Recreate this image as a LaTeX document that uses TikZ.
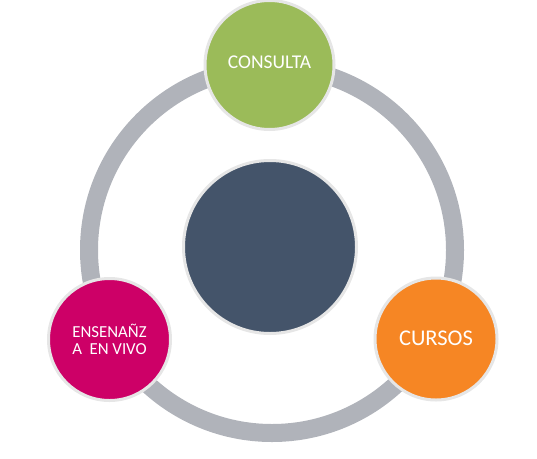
\documentclass[tikz,border=0pt]{standalone}
\usepackage{fontspec}
\setmainfont{Carlito}
\definecolor{ringgray}{HTML}{B0B3BA}
\definecolor{bordergray}{HTML}{E6E6E6}
\definecolor{cgreen}{HTML}{9BBB59}
\definecolor{cmagenta}{HTML}{CD0067}
\definecolor{corange}{HTML}{F68624}
\definecolor{cdark}{HTML}{44546A}
\begin{document}
\begin{tikzpicture}[x=1pt,y=-1pt,
  bubble/.style={circle, draw=bordergray, line width=3pt, inner sep=0pt},
  lbl/.style={text=white, inner sep=0pt, align=center}]
\useasboundingbox (0,0) rectangle (537,458);
\coordinate (rc) at (272,250);
\draw[ringgray, line width=18pt] (rc) circle (183);
\node[bubble, fill=cdark, minimum size=173pt] (hub) at (270,247) {};
\node[bubble, fill=cgreen, minimum size=129pt] (consulta) at (269.5,65) {};
\node[bubble, fill=cmagenta, minimum size=122pt] (ensenanza) at (109.5,339.5) {};
\node[bubble, fill=corange, minimum size=122pt] (cursos) at (436,339) {};
\node[lbl, font=\fontsize{19.5}{21}\selectfont] at ([yshift=3pt]consulta.center) {CONSULTA};
\node[lbl, font=\fontsize{16.8}{17}\selectfont] at (ensenanza.center) {ENSENAÑZ\\A\ \ EN VIVO};
\node[lbl, font=\fontsize{22.5}{24}\selectfont] at ([yshift=1pt]cursos.center) {CURSOS};
\end{tikzpicture}
\end{document}
